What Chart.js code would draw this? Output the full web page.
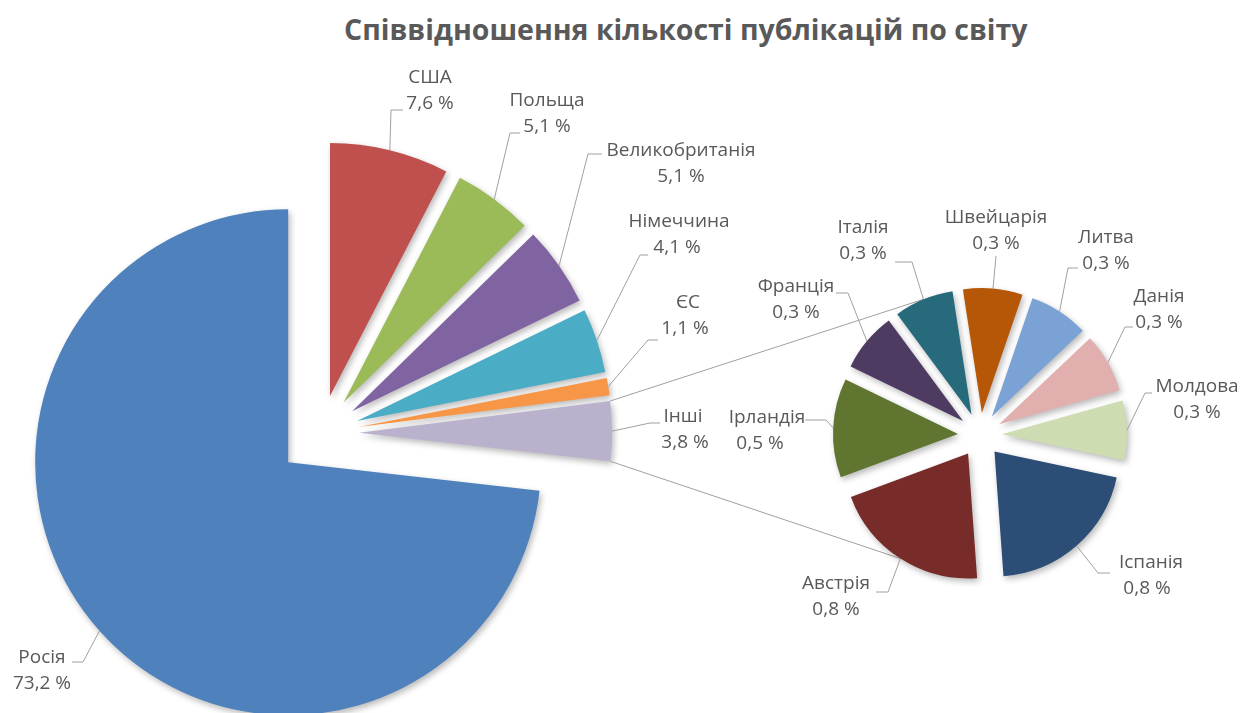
<!DOCTYPE html>
<html lang="uk">
<head>
<meta charset="utf-8">
<title>Співвідношення кількості публікацій по світу</title>
<script src="https://cdn.jsdelivr.net/npm/chart.js@4"></script>
<style>
  html, body { margin: 0; padding: 0; background: #fff; }
  #wrap { position: relative; width: 1245px; height: 713px; overflow: hidden; }
  #wrap canvas { position: absolute; left: 0; top: 0; }
  #title {
    position: absolute; left: 344px; top: 10px; white-space: nowrap;
    font: bold 28.5px 'Open Sans', sans-serif; color: #595959;
  }
</style>
</head>
<body>
<div id="wrap">
  <div id="title">Співвідношення кількості публікацій по світу</div>
  <canvas id="mainPie" width="1245" height="713"></canvas>
  <canvas id="subPie" width="1245" height="713"></canvas>
</div>
<script>
// main pie, clockwise from 12 o'clock
const mainLabels = ['США', 'Польща', 'Великобританія', 'Німеччина', 'ЄС', 'Інші', 'Росія'];
const mainValues = [7.6, 5.1, 5.1, 4.1, 1.1, 3.8, 73.2];
const mainColors = ['#C0504D', '#9BBB59', '#8064A2', '#4BACC6', '#F79646', '#BAB2CD', '#4F81BD'];

// secondary pie ("Інші" split up)
const subLabels = ['Іспанія', 'Австрія', 'Ірландія', 'Франція', 'Італія', 'Швейцарія', 'Литва', 'Данія', 'Молдова'];
const subValues = [0.8, 0.8, 0.5, 0.3, 0.3, 0.3, 0.3, 0.3, 0.3];
const subColors = ['#2C4D75', '#772C2A', '#5F7530', '#4D3B62', '#276A7C', '#B65708', '#7BA2D4', '#E0AFAE', '#CDDCB1'];

const OTHERS_INDEX = 5;

// label placement: first-line centre (vx = second line centre if different), leader elbow and stub end
const mainLabelPos = [
  { x: 430, y: 78, elbow: [391, 110], end: [403, 110] },
  { x: 547, y: 101, elbow: [510, 133], end: [520, 133] },
  { x: 681, y: 151, elbow: [588, 154], end: [602, 154] },
  { x: 679, y: 222, vx: 677, elbow: [640, 255], end: [648, 255] },
  { x: 688, y: 303, vx: 685, elbow: [648, 340], end: [658, 340] },
  { x: 683, y: 417, vx: 685, elbow: [650, 423], end: [660, 423] },
  { x: 42, y: 658, elbow: [83, 662], end: [72, 662] },
];
const subLabelPos = [
  { x: 1151, y: 563, vx: 1147, elbow: [1098, 573], end: [1110, 573] },
  { x: 836, y: 584, elbow: [888, 592], end: [876, 592] },
  { x: 767, y: 418, vx: 760, elbow: [826, 420], end: [805, 420] },
  { x: 796, y: 287, elbow: [848, 293], end: [836, 293] },
  { x: 863, y: 228, elbow: [912, 262], end: [895, 262] },
  { x: 996, y: 218, elbow: [996, 256], end: [996, 256] },
  { x: 1106, y: 238, elbow: [1068, 268], end: [1078, 268] },
  { x: 1159, y: 297, elbow: [1125, 327], end: [1133, 327] },
  { x: 1197, y: 387, elbow: [1145, 393], end: [1152, 393] },
];

const TEXT = '#595959';
const LEADER = '#A0A0A0';
const FONT = '19px "Open Sans", sans-serif';

const fmt = v => v.toFixed(1).replace('.', ',') + ' %';

// push every slice out along its own bisector
const explodePlugin = {
  id: 'explode',
  afterDatasetUpdate(chart, args, opts) {
    args.meta.data.forEach((arc, i) => {
      const mid = (arc.startAngle + arc.endAngle) / 2;
      const d = opts.distances[i] || 0;
      arc.x += Math.cos(mid) * d;
      arc.y += Math.sin(mid) * d;
    });
  },
};

const shadowPlugin = {
  id: 'softShadow',
  beforeDatasetsDraw(chart) {
    const c = chart.ctx;
    c.save();
    c.shadowColor = 'rgba(0,0,0,0.28)';
    c.shadowBlur = 6;
    c.shadowOffsetX = 2;
    c.shadowOffsetY = 3;
  },
  afterDatasetsDraw(chart) {
    chart.ctx.restore();
  },
};

function edgePoint(arc, angle) {
  return [arc.x + Math.cos(angle) * arc.outerRadius, arc.y + Math.sin(angle) * arc.outerRadius];
}

const labelPlugin = {
  id: 'sliceLabels',
  afterDatasetsDraw(chart, args, opts) {
    const c = chart.ctx;
    const arcs = chart.getDatasetMeta(0).data;
    const labels = chart.data.labels;
    const values = chart.data.datasets[0].data;
    c.save();
    c.strokeStyle = LEADER;
    c.lineWidth = 1;
    arcs.forEach((arc, i) => {
      const p = opts.pos[i];
      const start = edgePoint(arc, (arc.startAngle + arc.endAngle) / 2);
      c.beginPath();
      c.moveTo(start[0], start[1]);
      c.lineTo(p.elbow[0], p.elbow[1]);
      c.lineTo(p.end[0], p.end[1]);
      c.stroke();
    });
    c.fillStyle = TEXT;
    c.font = FONT;
    c.textAlign = 'center';
    c.textBaseline = 'middle';
    arcs.forEach((arc, i) => {
      const p = opts.pos[i];
      c.fillText(labels[i], p.x, p.y);
      c.fillText(fmt(values[i]), p.vx ?? p.x, p.y + 26);
    });
    c.restore();
  },
};

const mainChart = new Chart(document.getElementById('mainPie'), {
  type: 'pie',
  data: {
    labels: mainLabels,
    datasets: [{
      data: mainValues,
      backgroundColor: mainColors,
      borderWidth: 0,
      clip: false,
    }],
  },
  options: {
    responsive: false,
    animation: false,
    events: [],
    radius: 253,
    rotation: 0,
    layout: { padding: { left: 0, right: 603, top: 153, bottom: 0 } },
    plugins: {
      legend: { display: false },
      tooltip: { enabled: false },
      explode: { distances: [38, 38, 38, 38, 38, 38, 44] },
      sliceLabels: { pos: mainLabelPos },
    },
  },
  plugins: [explodePlugin, shadowPlugin, labelPlugin],
});

// lines joining "Інші" to the secondary pie
const connectorPlugin = {
  id: 'connectors',
  beforeDatasetsDraw(chart) {
    const other = mainChart.getDatasetMeta(0).data[OTHERS_INDEX];
    const arcs = chart.getDatasetMeta(0).data;
    const top = arcs[4];
    const bottom = arcs[1];
    const a = edgePoint(other, other.startAngle);
    const b = edgePoint(other, other.endAngle);
    const t = edgePoint(top, (top.startAngle + top.endAngle) / 2);
    const u = edgePoint(bottom, (bottom.startAngle + bottom.endAngle) / 2);
    const c = chart.ctx;
    c.save();
    c.strokeStyle = LEADER;
    c.lineWidth = 1;
    c.beginPath();
    c.moveTo(a[0], a[1]);
    c.lineTo(t[0], t[1]);
    c.moveTo(b[0], b[1]);
    c.lineTo(u[0], u[1]);
    c.stroke();
    c.restore();
  },
};

new Chart(document.getElementById('subPie'), {
  type: 'pie',
  data: {
    labels: subLabels,
    datasets: [{
      data: subValues,
      backgroundColor: subColors,
      borderWidth: 0,
      clip: false,
    }],
  },
  options: {
    responsive: false,
    animation: false,
    events: [],
    radius: 125,
    rotation: 102,
    layout: { padding: { left: 715, right: 0, top: 157, bottom: 0 } },
    plugins: {
      legend: { display: false },
      tooltip: { enabled: false },
      explode: { distances: subValues.map(() => 22) },
      sliceLabels: { pos: subLabelPos },
    },
  },
  plugins: [explodePlugin, connectorPlugin, shadowPlugin, labelPlugin],
});
</script>
</body>
</html>
